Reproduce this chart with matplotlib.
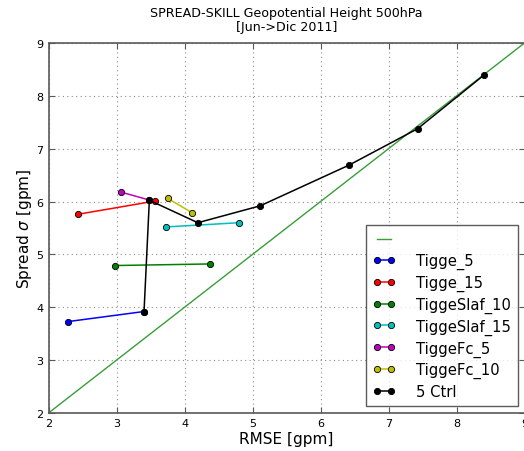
import matplotlib
matplotlib.use('Agg')
import matplotlib.pyplot as plt

# RMSE / spread pairs per experiment
tigge_5_x = [2.29, 3.405]
tigge_5_y = [3.73, 3.92]
tigge_15_x = [2.435, 3.567]
tigge_15_y = [5.76, 6.01]
slaf_10_x = [2.985, 4.376]
slaf_10_y = [4.79, 4.82]
slaf_15_x = [3.728, 4.80]
slaf_15_y = [5.52, 5.60]
fc_5_x = [3.064, 3.48]
fc_5_y = [6.18, 6.03]
fc_10_x = [3.752, 4.11]
fc_10_y = [6.06, 5.79]
ctrl_x = [3.405, 3.483, 4.196, 5.114, 6.42, 7.43, 8.41]
ctrl_y = [3.92, 6.025, 5.60, 5.92, 6.69, 7.38, 8.40]
diag = [2, 9]

SERIES = [
    ("Tigge_5", tigge_5_x, tigge_5_y, "b"),
    ("Tigge_15", tigge_15_x, tigge_15_y, "r"),
    ("TiggeSlaf_10", slaf_10_x, slaf_10_y, "g"),
    ("TiggeSlaf_15", slaf_15_x, slaf_15_y, "c"),
    ("TiggeFc_5", fc_5_x, fc_5_y, "m"),
    ("TiggeFc_10", fc_10_x, fc_10_y, "y"),
    ("5 Ctrl", ctrl_x, ctrl_y, "k"),
]

COLORS = {"b": (0, 0, 1), "r": (1, 0, 0), "g": (0, 0.5, 0), "c": (0, 0.75, 0.75),
          "m": (0.75, 0, 0.75), "y": (0.75, 0.75, 0), "k": (0, 0, 0)}

fig = plt.figure(figsize=(5.24, 4.52), dpi=100)
ax = fig.add_axes([48.5 / 524, 38 / 452, 476 / 524, 370 / 452])

ax.plot(diag, diag, color=(0.22, 0.62, 0.22), lw=1, label=" ")
for name, xs, ys, c in SERIES:
    ax.plot(xs, ys, "-o", color=COLORS[c], lw=1.1, ms=4.5, mec="k", mew=0.6, label=name)

ax.set_xlim(2, 9)
ax.set_ylim(2, 9)
ax.grid(True, linestyle=(0, (1, 3)), color="0.55", lw=0.8)
ax.tick_params(direction="in", top=True, right=True, labelsize=8, length=4, color="0.35")
for s in ax.spines.values():
    s.set_color("0.35")
    s.set_linewidth(1.2)

ax.set_xlabel("RMSE [gpm]", fontsize=11, labelpad=2)
ax.set_ylabel(r"Spread $\sigma$ [gpm]", fontsize=11, labelpad=2)
ax.set_title("SPREAD-SKILL Geopotential Height 500hPa\n[Jun->Dic 2011]", fontsize=9.1, pad=9.5,
             linespacing=1.05)

leg = ax.legend(loc="lower right", numpoints=2, fontsize=10.6, handlelength=1.55,
                handletextpad=1.35, labelspacing=0.38, fancybox=False,
                borderaxespad=0.45, borderpad=0.5)
leg.get_frame().set_edgecolor("0.2")
leg.get_frame().set_linewidth(1)

fig.savefig("out.png", dpi=100)
